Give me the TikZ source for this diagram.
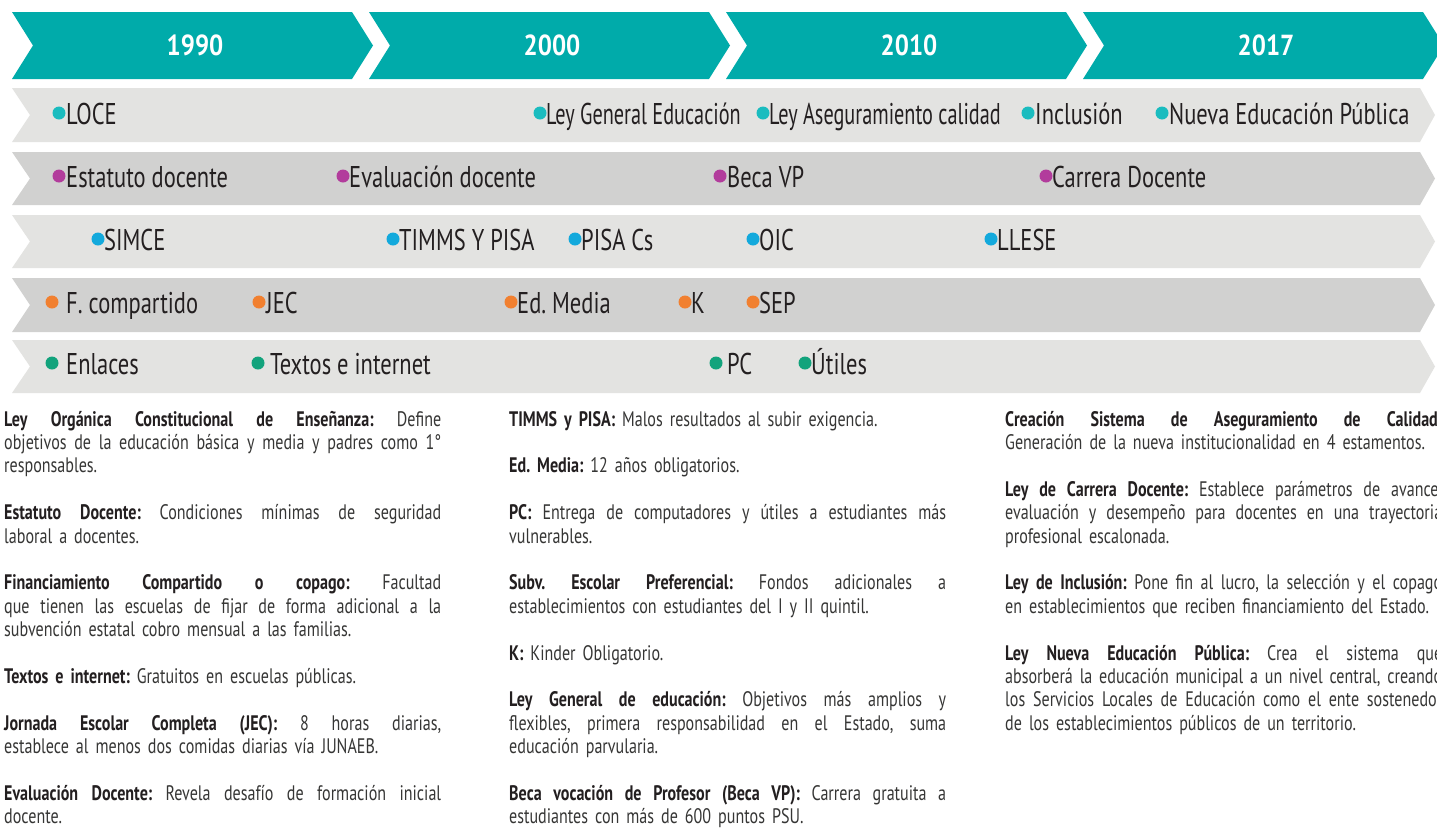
\documentclass[tikz,border=0pt]{standalone}
\usepackage{fontspec}
\setmainfont{PT Sans}[FakeStretch=0.765]
\newfontfamily\labfam{PT Sans}[FakeStretch=0.75]
\newfontfamily\labnarrow{PT Sans}[FakeStretch=0.675]
\newfontfamily\yearfam{PT Sans}[FakeStretch=0.86]
\frenchspacing
\definecolor{chevteal}{HTML}{00ABAA}
\definecolor{rowA}{HTML}{E3E3E1}
\definecolor{rowB}{HTML}{D1D1D0}
\definecolor{ink}{HTML}{231F20}
\definecolor{bodyc}{HTML}{363635}
\definecolor{dA}{HTML}{1ABCBF}
\definecolor{dB}{HTML}{B23C9C}
\definecolor{dC}{HTML}{13A9DC}
\definecolor{dD}{HTML}{F18030}
\definecolor{dE}{HTML}{12A37C}
\newcommand\labfont{\labfam\fontsize{30}{36}\selectfont}
\newcommand\yearfont{\yearfam\fontsize{29}{34}\selectfont\bfseries}
\newcommand\bodyfont{\fontsize{21}{23.4}\selectfont}
\newcommand\hd[1]{\textbf{\color{ink}#1}}
\newcommand\JL[1]{\hbox to \hsize{\spaceskip=\fontdimen2\font plus 1fil\relax\xspaceskip=\spaceskip #1}}
\newcommand\LL[1]{\hbox{#1}}
\newcommand\PG{\vskip 23.4pt}
\begin{document}
\begin{tikzpicture}[x=1pt,y=-1pt,
  yearlbl/.style={text=white,font=\yearfont,inner sep=0pt},
  dot/.style={circle,fill=#1,minimum size=13pt,inner sep=0pt},
  lab/.style={anchor=base west,inner sep=0pt,text=ink,font=\labfont},
  labn/.style={lab,font={\labnarrow\fontsize{30}{36}\selectfont}},
  col/.style={anchor=base west,inner sep=0pt,text width=437pt,font=\bodyfont,text=bodyc}]
\useasboundingbox (0,0) rectangle (1437,828);
\clip (0,0) rectangle (1437,828);
\fill[white] (0,0) rectangle (1437,828);
% year chevrons
\foreach \i/\yr in {0/1990,1/2000,2/2010,3/2017}{
  \pgfmathsetmacro\xo{12+357*\i}
  \fill[chevteal] (\xo,12) -- ++(340,0) -- ++(21,33.5) -- ++(-21,33.5) -- ++(-340,0) -- ++(21,-33.5) -- cycle;
  \node[yearlbl] (y\yr) at (\xo+183,45.5) {\yr};
}
% grey bands
\foreach \t/\b/\c in {88/142/rowA,152/205/rowB,215/268/rowA,278/332/rowB,340/393/rowA}{
  \fill[\c] (12,\t) -- (1420,\t) -- (1435,{(\t+\b)/2}) -- (1420,\b) -- (12,\b) -- (30,{(\t+\b)/2}) -- cycle;
}
% row 1
\node[dot=dA] (d11) at (59,113) {};  \node[lab] (l11) at (66,124) {LOCE};
\node[dot=dA] (d12) at (540,113) {}; \node[labn] (l12) at (546,124) {Ley General Educación};
\node[dot=dA] (d13) at (763,113) {}; \node[labn] (l13) at (769,124) {Ley Aseguramiento calidad};
\node[dot=dA] (d14) at (1028,113) {}; \node[lab] (l14) at (1035,124) {Inclusión};
\node[dot=dA] (d15) at (1162,113) {}; \node[lab] (l15) at (1169,124) {Nueva Educación Pública};
% row 2
\node[dot=dB] (d21) at (59,176) {};  \node[lab] (l21) at (66,187) {Estatuto docente};
\node[dot=dB] (d22) at (343,176) {}; \node[lab] (l22) at (349,187) {Evaluación docente};
\node[dot=dB] (d23) at (720,176) {}; \node[lab] (l23) at (727,187) {Beca VP};
\node[dot=dB] (d24) at (1046,176) {}; \node[lab] (l24) at (1052,187) {Carrera Docente};
% row 3
\node[dot=dC] (d31) at (98,239) {};  \node[lab] (l31) at (104,250) {SIMCE};
\node[dot=dC] (d32) at (393,239) {}; \node[lab] (l32) at (399,250) {TIMMS Y PISA};
\node[dot=dC] (d33) at (575,239) {}; \node[lab] (l33) at (581,250) {PISA Cs};
\node[dot=dC] (d34) at (753,239) {}; \node[lab] (l34) at (759,250) {OIC};
\node[dot=dC] (d35) at (991,239) {}; \node[lab] (l35) at (997,250) {LLESE};
% row 4
\node[dot=dD] (d41) at (52,302) {};  \node[lab] (l41) at (66,313) {F. compartido};
\node[dot=dD] (d42) at (259,302) {}; \node[lab] (l42) at (266,313) {JEC};
\node[dot=dD] (d43) at (511,302) {}; \node[lab] (l43) at (517,313) {Ed. Media};
\node[dot=dD] (d44) at (685,302) {}; \node[lab] (l44) at (691,313) {K};
\node[dot=dD] (d45) at (753,302) {}; \node[lab] (l45) at (759,313) {SEP};
% row 5
\node[dot=dE] (d51) at (52,363) {};  \node[lab] (l51) at (66,374) {Enlaces};
\node[dot=dE] (d52) at (258,363) {}; \node[lab] (l52) at (270,374) {Textos e internet};
\node[dot=dE] (d53) at (716,363) {}; \node[lab] (l53) at (727,374) {PC};
\node[dot=dE] (d54) at (805,363) {}; \node[lab] (l54) at (811,374) {Útiles};
% text columns
\node[col] (c1) at (4,426) {%
\JL{\hd{Ley Orgánica Constitucional de Enseñanza:} Define}
\JL{objetivos de la educación básica y media y padres como 1°}
\LL{responsables.}\PG
\JL{\hd{Estatuto Docente:} Condiciones mínimas de seguridad}
\LL{laboral a docentes.}\PG
\JL{\hd{Financiamiento Compartido o copago:} Facultad}
\JL{que tienen las escuelas de fijar de forma adicional a la}
\LL{subvención estatal cobro mensual a las familias.}\PG
\LL{\hd{Textos e internet:} Gratuitos en escuelas públicas.}\PG
\JL{\hd{Jornada Escolar Completa (JEC):} 8 horas diarias,}
\LL{establece al menos dos comidas diarias vía JUNAEB.}\PG
\JL{\hd{Evaluación Docente:} Revela desafío de formación inicial}
\LL{docente.}};
\node[col] (c2) at (509,426) {%
\LL{\hd{TIMMS y PISA:} Malos resultados al subir exigencia.}\PG
\LL{\hd{Ed. Media:} 12 años obligatorios.}\PG
\JL{\hd{PC:} Entrega de computadores y útiles a estudiantes más}
\LL{vulnerables.}\PG
\JL{\hd{Subv. Escolar Preferencial:} Fondos adicionales a}
\LL{establecimientos con estudiantes del I y II quintil.}\PG
\LL{\hd{K:} Kinder Obligatorio.}\PG
\JL{\hd{Ley General de educación:} Objetivos más amplios y}
\JL{flexibles, primera responsabilidad en el Estado, suma}
\LL{educación parvularia.}\PG
\JL{\hd{Beca vocación de Profesor (Beca VP):} Carrera gratuita a}
\LL{estudiantes con más de 600 puntos PSU.}};
\node[col] (c3) at (1005,426) {%
\JL{\hd{Creación Sistema de Aseguramiento de Calidad:}}
\LL{Generación de la nueva institucionalidad en 4 estamentos.}\PG
\JL{\hd{Ley de Carrera Docente:} Establece parámetros de avance,}
\JL{evaluación y desempeño para docentes en una trayectoria}
\LL{profesional escalonada.}\PG
\JL{\hd{Ley de Inclusión:} Pone fin al lucro, la selección y el copago}
\LL{en establecimientos que reciben financiamiento del Estado.}\PG
\JL{\hd{Ley Nueva Educación Pública:} Crea el sistema que}
\JL{absorberá la educación municipal a un nivel central, creando}
\JL{los Servicios Locales de Educación como el ente sostenedor}
\LL{de los establecimientos públicos de un territorio.}};
\end{tikzpicture}
\end{document}
